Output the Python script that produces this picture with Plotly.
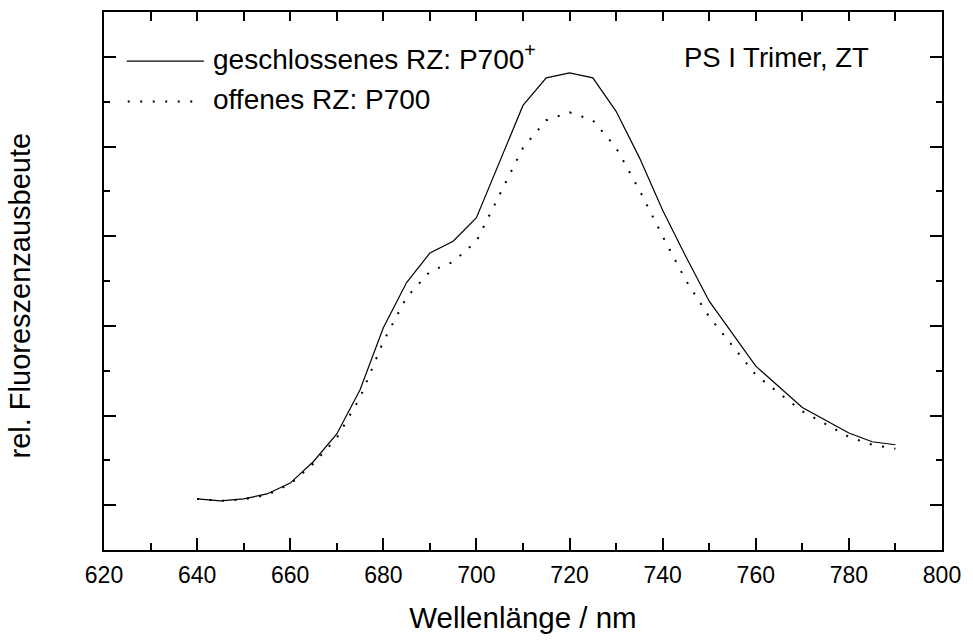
import plotly.graph_objects as go

# wavelengths (nm)
wavelength = [640, 645, 650, 655, 660, 665, 670, 675, 680, 685, 690, 695, 700, 705,
              710, 715, 720, 725, 730, 735, 740, 745, 750, 760, 770, 780, 785, 790]
# closed reaction centre: P700+  (relative units)
closed_rc = [0.570, 0.548, 0.570, 0.625, 0.746, 0.987, 1.294, 1.788, 2.479, 2.983,
             3.312, 3.444, 3.707, 4.330, 4.958, 5.265, 5.320, 5.265, 4.892, 4.376,
             3.790, 3.270, 2.775, 2.051, 1.590, 1.305, 1.207, 1.174]
# open reaction centre: P700
open_rc = [0.570, 0.548, 0.565, 0.614, 0.735, 0.965, 1.250, 1.700, 2.325, 2.819,
           3.104, 3.214, 3.444, 3.960, 4.486, 4.793, 4.881, 4.793, 4.486, 4.014,
           3.499, 3.005, 2.600, 1.952, 1.547, 1.261, 1.174, 1.130]

label_closed = "geschlossenes RZ: P700<sup>+</sup>"
label_open = "offenes RZ: P700"
sample_label = "PS I Trimer, ZT"
x_title = "Wellenlänge / nm"
y_title = "rel. Fluoreszenzausbeute"

FONT = "Arial, Liberation Sans, sans-serif"

fig = go.Figure()
fig.add_trace(go.Scatter(x=wavelength, y=closed_rc, mode="lines", name=label_closed,
                         line=dict(color="black", width=1.2), showlegend=False))
fig.add_trace(go.Scatter(x=wavelength, y=open_rc, mode="lines", name=label_open,
                         line=dict(color="black", width=2, dash="2px,10.5px"),
                         showlegend=False))
# helper trace so that the top axis is drawn
fig.add_trace(go.Scatter(x=[], y=[], xaxis="x2", showlegend=False, hoverinfo="skip"))

# figure fills the whole 973x641 window (page margin removed in post_script)
W, H = 973, 641
# plot area in window pixels: x 104..952, y 12..559
L, T = 104, 12
R = W - 952
B = H - 559
pw, ph = W - L - R, H - T - B

def px(x):
    return (x - L) / pw

def py(y):
    return (H - B - y) / ph

fig.update_layout(
    width=W, height=H,
    margin=dict(l=L, r=R, t=T, b=B),
    paper_bgcolor="white", plot_bgcolor="white",
    font=dict(family=FONT, color="black"),
    xaxis=dict(
        range=[620, 800], tick0=620, dtick=20, ticks="inside", ticklen=12, tickwidth=2,
        tickcolor="black", showline=True, linewidth=2, linecolor="black",
        showgrid=False, zeroline=False, mirror=False,
        tickfont=dict(size=23, family=FONT, color="black"), ticklabelstandoff=3,
        ticklabeloverflow="allow",
        minor=dict(dtick=10, ticks="inside", ticklen=7, tickwidth=2, tickcolor="black",
                   showgrid=False),
        title=dict(text=x_title, font=dict(size=29.5, family=FONT, color="black"), standoff=21),
    ),
    xaxis2=dict(
        range=[620, 800], overlaying="x", side="top", anchor="y",
        tick0=620, dtick=10, ticks="inside", ticklen=9, tickwidth=2, tickcolor="black",
        showticklabels=False, showline=True, linewidth=2, linecolor="black",
        showgrid=False, zeroline=False,
    ),
    yaxis=dict(
        range=[0, 6], tick0=0.5, dtick=1, ticks="inside", ticklen=12, tickwidth=2,
        tickcolor="black", showticklabels=False, showline=True, linewidth=2,
        linecolor="black", mirror="ticks", showgrid=False, zeroline=False,
        minor=dict(dtick=0.5, ticks="inside", ticklen=6, tickwidth=2, tickcolor="black",
                   showgrid=False),
    ),
)

# y axis title (placed slightly below centre, as in the original)
fig.add_annotation(x=px(1), y=py(300), xref="paper", yref="paper", text=y_title,
                   textangle=-90, showarrow=False, xanchor="left", yanchor="middle",
                   font=dict(size=29, family=FONT, color="black"))

# legend drawn inside the plot
fig.add_shape(type="line", xref="paper", yref="paper", x0=px(127), x1=px(205),
              y0=py(62), y1=py(62), line=dict(color="black", width=1.2))
fig.add_shape(type="line", xref="paper", yref="paper", x0=px(128), x1=px(202),
              y0=py(103), y1=py(103), line=dict(color="black", width=2, dash="2px,10.5px"))
fig.add_annotation(x=px(212), y=py(58), xref="paper", yref="paper", text=label_closed,
                   showarrow=False, xanchor="left", yanchor="middle",
                   font=dict(size=28, family=FONT, color="black"))
fig.add_annotation(x=px(212), y=py(101), xref="paper", yref="paper", text=label_open,
                   showarrow=False, xanchor="left", yanchor="middle",
                   font=dict(size=28, family=FONT, color="black"))
fig.add_annotation(x=px(689), y=py(58), xref="paper", yref="paper", text=sample_label,
                   showarrow=False, xanchor="left", yanchor="middle",
                   font=dict(size=27.5, family=FONT, color="black"))

fig.write_html(
    "out.html",
    config={"displayModeBar": False, "staticPlot": True},
    post_script="document.body.style.margin='0';document.body.style.overflow='hidden';",
)
